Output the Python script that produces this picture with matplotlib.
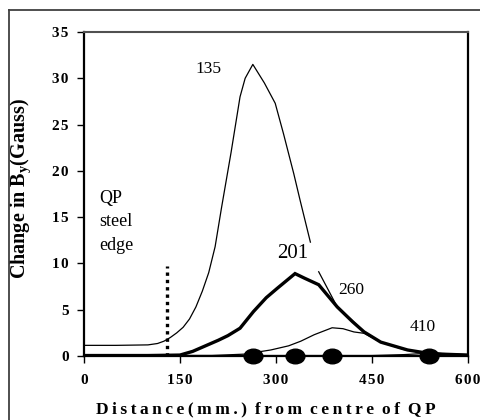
import numpy as np
import matplotlib
matplotlib.use("Agg")
import matplotlib.pyplot as plt
from matplotlib.path import Path
from matplotlib.transforms import Affine2D
from matplotlib.lines import Line2D

plt.rcParams['font.family'] = ['Liberation Serif', 'DejaVu Serif']
plt.rcParams['mathtext.fontset'] = 'custom'
plt.rcParams['mathtext.rm'] = 'Liberation Serif:bold'

# ---- data (mm, Gauss) ----
x135 = [0, 50, 100, 115, 125, 135, 145, 155, 165, 175, 185, 195, 205, 215, 230, 244, 252, 264, 282, 299, 312, 328, 338, 354,
        np.nan, 367, 380, 396, 420, 438, 464, 500, 540, 600]
y135 = [1.15, 1.15, 1.2, 1.35, 1.6, 2.0, 2.5, 3.1, 4.0, 5.3, 7.0, 9.0, 11.8, 16.0, 22.0, 28.0, 30.0, 31.5, 29.5, 27.3, 24.0, 19.7, 16.8, 12.3,
        np.nan, 9.1, 7.4, 5.3, 3.8, 2.6, 1.5, 0.7, 0.3, 0.1]

x201 = [0, 100, 150, 170, 190, 210, 225, 244, 265, 285, 302, 330, 345, 367, 396, 420, 438, 464, 506, 532, 560, 600]
y201 = [0.05, 0.05, 0.1, 0.5, 1.1, 1.7, 2.2, 3.0, 4.8, 6.3, 7.3, 8.9, 8.4, 7.7, 5.3, 3.7, 2.6, 1.5, 0.65, 0.36, 0.2, 0.1]

x260 = [0, 200, 250, 292, 320, 339, 360, 388, 405, 422, 438, 464, 506, 540, 600]
y260 = [0.05, 0.05, 0.2, 0.65, 1.1, 1.6, 2.3, 3.05, 2.95, 2.6, 2.45, 1.5, 0.65, 0.3, 0.1]

x410 = [0, 450, 500, 540, 570, 600]
y410 = [0.05, 0.05, 0.15, 0.3, 0.25, 0.15]

peak_x = [264, 330, 388, 540]
peak_y = [0, 0, 0, 0]

edge_x = 130
edge_top = 9.7

xticks = [0, 150, 300, 450, 600]
yticks = [0, 5, 10, 15, 20, 25, 30, 35]

TS = '\u2009'
HS = '\u200a'

fig = plt.figure(figsize=(4.8, 4.2), dpi=100)
W, H = 480, 420
ax = fig.add_axes([84 / W, 1 - 356 / H, (467.7 - 84) / W, (356 - 32) / H])

ax.plot(x135, y135, color='black', lw=0.9)
ax.plot(x260, y260, color='black', lw=0.9)
ax.plot(x410, y410, color='black', lw=0.9)
ax.plot(x201, y201, color='black', lw=2.4, solid_joinstyle='miter')

ell = Path.unit_circle().transformed(Affine2D().scale(1.0, 0.78))
ax.plot(peak_x, peak_y, linestyle='none', marker=ell, markersize=13.5,
        color='black', clip_on=False, zorder=5)

ax.plot([edge_x, edge_x], [0, edge_top], color='black', lw=2.4,
        linestyle=(0, (1, 1.2)), dash_capstyle='butt')

ax.set_xlim(0, 600)
ax.set_ylim(0, 35)
ax.set_xticks(xticks)
ax.set_xticklabels([HS.join(str(v)) for v in xticks], fontsize=11, fontweight='bold')
ax.set_yticks(yticks)
ax.set_yticklabels([HS.join(str(v)) for v in yticks], fontsize=11, fontweight='bold')
ax.tick_params(direction='out', length=5, width=1, pad=8)
ax.tick_params(axis='y', pad=6)

for s in ['left', 'right', 'bottom']:
    ax.spines[s].set_linewidth(1.6)
    ax.spines[s].set_color('black')
ax.spines['top'].set_linewidth(1.5)
ax.spines['top'].set_color('#505050')

ax.set_ylabel('Change in B$\\mathregular{_y}$(Gauss)', fontsize=14.5, fontweight='bold')
ax.yaxis.set_label_coords((33 - 84) / 383.7, (356 - 189) / 324)

xl = TS.join('Distance(mm.)') + TS + ' ' + TS.join('from') + TS + ' ' + TS.join('centre') + TS + ' ' + TS.join('of') + TS + ' ' + TS.join('QP')
fig.text(266 / W, 1 - 409 / H, xl, fontsize=12.5, fontweight='bold', ha='center', va='center')

def px(xp, yp):
    return ax.transData.inverted().transform(fig.transFigure.transform((xp / W, 1 - yp / H)))

ax.text(*px(208, 69), '135', fontsize=12.5, ha='center', va='center')
ax.text(*px(293, 254), '201', fontsize=15, ha='center', va='center')
ax.text(*px(351, 290), '260', fontsize=12.5, ha='center', va='center')
ax.text(*px(423, 327), '410', fontsize=12.5, ha='center', va='center')
ax.text(*px(99, 190), 'QP\nsteel\nedge', fontsize=13, ha='left', va='top',
        linespacing=1.5)

# outer frame
fig.add_artist(Line2D([9 / W, 1.0], [1 - 10 / H, 1 - 10 / H], transform=fig.transFigure,
                      color='#404040', lw=1.3))
fig.add_artist(Line2D([9 / W, 9 / W], [0, 1 - 10 / H], transform=fig.transFigure,
                      color='#404040', lw=1.3))

fig.savefig('out.png', dpi=100)
